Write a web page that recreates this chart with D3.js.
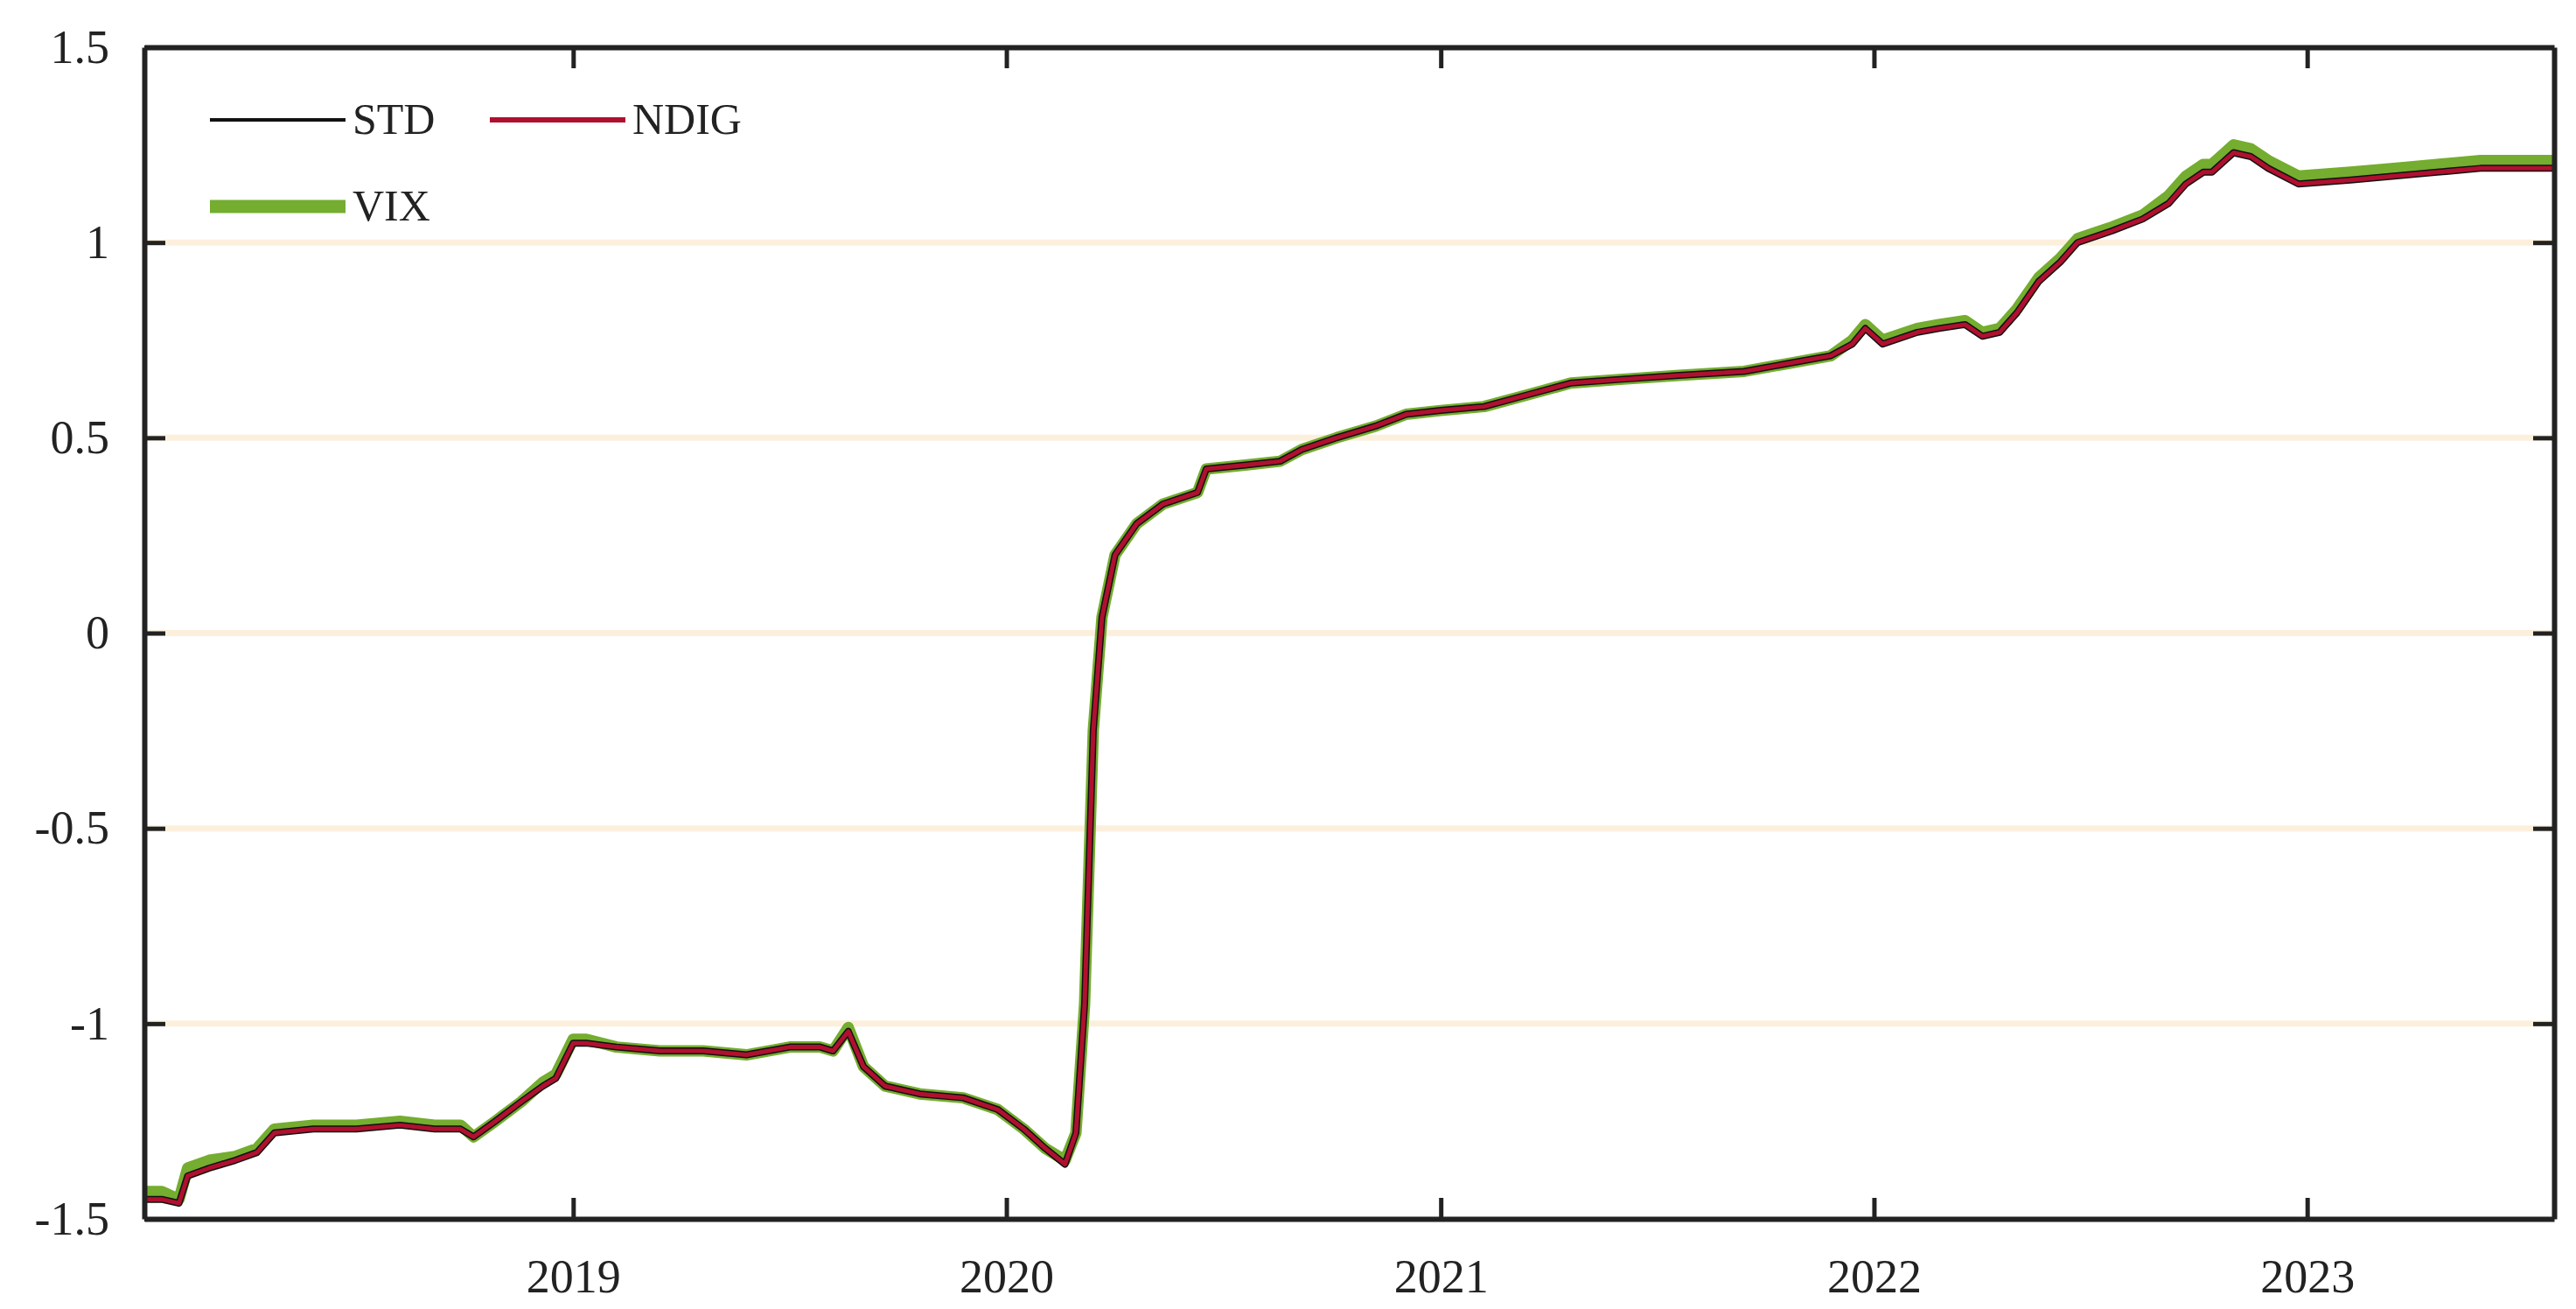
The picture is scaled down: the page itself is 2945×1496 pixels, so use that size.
<!DOCTYPE html>
<html>
<head>
<meta charset="utf-8">
<script src="https://cdn.jsdelivr.net/npm/d3@7"></script>
<style>
  body { margin: 0; background: #fff; }
  text { font-family: "Liberation Serif", "DejaVu Serif", serif; fill: #222; }
</style>
</head>
<body>
<svg id="chart" width="2945" height="1496"></svg>
<script>
// decimal years of the sample points
var years = [2018.01, 2018.05, 2018.09, 2018.11, 2018.16, 2018.22, 2018.27, 2018.31, 2018.40, 2018.50, 2018.60, 2018.68,
  2018.74, 2018.77, 2018.82, 2018.88, 2018.93, 2018.96, 2019.00, 2019.03, 2019.10, 2019.20, 2019.30, 2019.40,
  2019.50, 2019.57, 2019.60, 2019.635, 2019.67, 2019.72, 2019.80, 2019.90, 2019.98, 2020.04, 2020.09, 2020.135,
  2020.16, 2020.18, 2020.20, 2020.22, 2020.25, 2020.30, 2020.36, 2020.44, 2020.46, 2020.55, 2020.63, 2020.68,
  2020.76, 2020.85, 2020.92, 2021.00, 2021.10, 2021.20, 2021.30, 2021.42, 2021.55, 2021.70, 2021.80, 2021.90,
  2021.95, 2021.98, 2022.02, 2022.10, 2022.15, 2022.21, 2022.25, 2022.29, 2022.33, 2022.38, 2022.43, 2022.47,
  2022.55, 2022.62, 2022.68, 2022.72, 2022.76, 2022.78, 2022.83, 2022.87, 2022.91, 2022.98, 2023.10, 2023.20,
  2023.30, 2023.40, 2023.50, 2023.57];

var ndig = [-1.45, -1.45, -1.46, -1.39, -1.37, -1.35, -1.33, -1.28, -1.27, -1.27, -1.26, -1.27,
  -1.27, -1.29, -1.25, -1.20, -1.16, -1.14, -1.05, -1.05, -1.06, -1.07, -1.07, -1.08,
  -1.06, -1.06, -1.07, -1.02, -1.11, -1.16, -1.18, -1.19, -1.22, -1.27, -1.32, -1.36,
  -1.28, -0.95, -0.25, 0.04, 0.20, 0.28, 0.33, 0.36, 0.42, 0.43, 0.44, 0.47,
  0.50, 0.53, 0.56, 0.57, 0.58, 0.61, 0.64, 0.65, 0.66, 0.67, 0.69, 0.71,
  0.74, 0.78, 0.74, 0.77, 0.78, 0.79, 0.76, 0.77, 0.82, 0.90, 0.95, 1.00,
  1.03, 1.06, 1.10, 1.15, 1.18, 1.18, 1.23, 1.22, 1.19, 1.15, 1.16, 1.17,
  1.18, 1.19, 1.19, 1.19];

var std = [-1.45, -1.45, -1.46, -1.39, -1.37, -1.35, -1.33, -1.28, -1.27, -1.27, -1.26, -1.27,
  -1.27, -1.29, -1.25, -1.20, -1.16, -1.14, -1.05, -1.05, -1.06, -1.07, -1.07, -1.08,
  -1.06, -1.06, -1.07, -1.02, -1.11, -1.16, -1.18, -1.19, -1.22, -1.27, -1.32, -1.36,
  -1.28, -0.95, -0.25, 0.04, 0.20, 0.28, 0.33, 0.36, 0.42, 0.43, 0.44, 0.47,
  0.50, 0.53, 0.56, 0.57, 0.58, 0.61, 0.64, 0.65, 0.66, 0.67, 0.69, 0.71,
  0.74, 0.78, 0.74, 0.77, 0.78, 0.79, 0.76, 0.77, 0.82, 0.90, 0.95, 1.00,
  1.03, 1.06, 1.10, 1.15, 1.18, 1.18, 1.23, 1.22, 1.19, 1.15, 1.16, 1.17,
  1.18, 1.19, 1.19, 1.19];

var vix = [-1.43, -1.43, -1.45, -1.37, -1.35, -1.34, -1.32, -1.27, -1.26, -1.26, -1.25, -1.26,
  -1.26, -1.29, -1.25, -1.20, -1.15, -1.13, -1.04, -1.04, -1.06, -1.07, -1.07, -1.08,
  -1.06, -1.06, -1.07, -1.01, -1.11, -1.16, -1.18, -1.19, -1.22, -1.27, -1.32, -1.35,
  -1.28, -0.95, -0.25, 0.04, 0.20, 0.28, 0.33, 0.36, 0.42, 0.43, 0.44, 0.47,
  0.50, 0.53, 0.56, 0.57, 0.58, 0.61, 0.64, 0.65, 0.66, 0.67, 0.69, 0.71,
  0.75, 0.79, 0.75, 0.78, 0.79, 0.80, 0.77, 0.78, 0.83, 0.91, 0.96, 1.01,
  1.04, 1.07, 1.12, 1.17, 1.20, 1.20, 1.25, 1.24, 1.21, 1.17, 1.18, 1.19,
  1.20, 1.21, 1.21, 1.21];

var yTicks = [-1.5, -1, -0.5, 0, 0.5, 1, 1.5];
var xTickYears = [2019, 2020, 2021, 2022, 2023];

// turn a decimal year into a Date
function toDate(y) {
  var yr = Math.floor(y);
  var start = new Date(yr, 0, 1), end = new Date(yr + 1, 0, 1);
  return new Date(+start + (y - yr) * (end - start));
}

var margin = {left: 165, right: 25, top: 54, bottom: 103};
var W = 2945, H = 1496;
var svg = d3.select("#chart");

var x = d3.scaleTime()
  .domain([toDate(2018.01), toDate(2023.57)])
  .range([margin.left, W - margin.right]);
var y = d3.scaleLinear().domain([-1.5, 1.5]).range([H - margin.bottom, margin.top]);

// light beige gridlines
svg.append("g").selectAll("line")
  .data(yTicks.filter(d => d > -1.5 && d < 1.5))
  .join("line")
  .attr("x1", margin.left).attr("x2", W - margin.right)
  .attr("y1", d => y(d)).attr("y2", d => y(d))
  .attr("stroke", "#fcf0dc").attr("stroke-width", 7);

var line = d3.line().x((d, i) => x(toDate(years[i]))).y(d => y(d));

svg.append("path").datum(vix).attr("d", line)
  .attr("fill", "none").attr("stroke", "#74ad2f").attr("stroke-width", 13).attr("stroke-linejoin", "round");
svg.append("path").datum(std).attr("d", line)
  .attr("fill", "none").attr("stroke", "#111").attr("stroke-width", 8).attr("stroke-linejoin", "round");
svg.append("path").datum(ndig).attr("d", line)
  .attr("fill", "none").attr("stroke", "#b0102f").attr("stroke-width", 5).attr("stroke-linejoin", "round");

// axes, ticks inward on all sides
var xTickDates = xTickYears.map(v => new Date(v, 0, 1));
var axB = svg.append("g").attr("transform", "translate(0," + (H - margin.bottom) + ")")
  .call(d3.axisBottom(x).tickValues(xTickDates).tickFormat(d3.timeFormat("%Y")).tickSizeInner(-24).tickSizeOuter(0).tickPadding(46));
var axT = svg.append("g").attr("transform", "translate(0," + margin.top + ")")
  .call(d3.axisTop(x).tickValues(xTickDates).tickFormat("").tickSizeInner(-24).tickSizeOuter(0));
var axL = svg.append("g").attr("transform", "translate(" + margin.left + ",0)")
  .call(d3.axisLeft(y).tickValues(yTicks).tickFormat(d => String(d)).tickSizeInner(-24).tickSizeOuter(0).tickPadding(40));
var axR = svg.append("g").attr("transform", "translate(" + (W - margin.right) + ",0)")
  .call(d3.axisRight(y).tickValues(yTicks).tickFormat("").tickSizeInner(-24).tickSizeOuter(0));

[axB, axT, axL, axR].forEach(function(a) {
  a.select(".domain").attr("stroke", "#222").attr("stroke-width", 6);
  a.selectAll(".tick line").attr("stroke", "#222").attr("stroke-width", 5);
  a.selectAll("text").style("font-family", "Liberation Serif").style("font-size", "54px").attr("fill", "#222");
});
axL.selectAll("text").attr("text-anchor", "end");

// legend
var legend = [
  {name: "STD", color: "#111", w: 4, x: 240, y: 137},
  {name: "NDIG", color: "#b0102f", w: 6, x: 560, y: 137},
  {name: "VIX", color: "#74ad2f", w: 15, x: 240, y: 236}
];
var lg = svg.append("g").selectAll("g").data(legend).join("g");
lg.append("line").attr("x1", d => d.x).attr("x2", d => d.x + 155)
  .attr("y1", d => d.y).attr("y2", d => d.y)
  .attr("stroke", d => d.color).attr("stroke-width", d => d.w);
lg.append("text").attr("x", d => d.x + 163).attr("y", d => d.y + 16)
  .style("font-size", "50px").text(d => d.name);
</script>
</body>
</html>
